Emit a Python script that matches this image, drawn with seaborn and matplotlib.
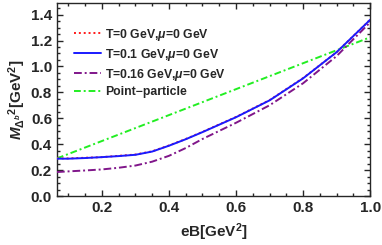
import numpy as np
import pandas as pd
import seaborn as sns
import matplotlib
matplotlib.use("Agg")
import matplotlib.pyplot as plt
from matplotlib.ticker import MultipleLocator

eB = [0.066, 0.1, 0.15, 0.2, 0.25, 0.3, 0.35, 0.4, 0.45, 0.5, 0.6, 0.7, 0.8, 0.9, 1.0]
m_T0 = [0.29, 0.29, 0.295, 0.30, 0.31, 0.32, 0.345, 0.39, 0.44, 0.495, 0.61, 0.74, 0.91, 1.11, 1.36]
m_T01 = [0.288, 0.288, 0.293, 0.30, 0.308, 0.318, 0.343, 0.388, 0.438, 0.493, 0.608, 0.738, 0.908, 1.11, 1.36]
m_T016 = [0.185, 0.19, 0.197, 0.205, 0.218, 0.235, 0.265, 0.31, 0.37, 0.44, 0.565, 0.70, 0.87, 1.08, 1.34]
pp_x = [0.066, 1.0]
pp_y = [0.29, 1.225]

labels = ["T=0 GeV,$\\mu$=0 GeV", "T=0.1 GeV,$\\mu$=0 GeV",
          "T=0.16 GeV,$\\mu$=0 GeV", "Point\u2212particle"]

sns.set_style("ticks")
plt.rcParams['font.family'] = ['Liberation Sans', 'DejaVu Sans']
plt.rcParams['mathtext.fontset'] = 'custom'
plt.rcParams['mathtext.rm'] = 'Liberation Sans:bold'
plt.rcParams['mathtext.it'] = 'Liberation Sans:italic:bold'
plt.rcParams['mathtext.bf'] = 'Liberation Sans:bold'

fig = plt.figure(figsize=(3.82, 2.45), dpi=100)
ax = fig.add_axes([0.149, 0.2, 0.82, 0.788])

df = pd.concat([
    pd.DataFrame({"eB": eB, "m": m_T0, "s": labels[0]}),
    pd.DataFrame({"eB": eB, "m": m_T01, "s": labels[1]}),
    pd.DataFrame({"eB": eB, "m": m_T016, "s": labels[2]}),
    pd.DataFrame({"eB": pp_x, "m": pp_y, "s": labels[3]}),
])

colors = ["#ff1a1a", "#1a1aff", "#80168a", "#22ee22"]
styles = [(0, (1, 1.5)), "-", (0, (4, 1.5, 1, 1.5)), (0, (3.5, 1.5, 1, 1.5))]
order = [3, 2, 0, 1]
for i in order:
    sub = df[df["s"] == labels[i]]
    sns.lineplot(data=sub, x="eB", y="m", ax=ax, color=colors[i],
                 linestyle=styles[i], lw=1.4, label=labels[i], zorder=3)

h, l = ax.get_legend_handles_labels()
hd = dict(zip(l, h))
leg = ax.legend([hd[k] for k in labels], labels, loc="upper left",
                bbox_to_anchor=(0.03, 0.915), frameon=False,
                prop={'size': 8.8, 'weight': 'bold'}, handlelength=2.2,
                handletextpad=0.4, labelspacing=0.32, borderaxespad=0.2)

ax.set_xlim(0.066, 1.0)
ax.set_ylim(0, 1.49)
ax.xaxis.set_major_locator(MultipleLocator(0.2))
ax.xaxis.set_minor_locator(MultipleLocator(0.05))
ax.yaxis.set_major_locator(MultipleLocator(0.2))
ax.yaxis.set_minor_locator(MultipleLocator(0.05))
ax.tick_params(which="both", direction="in", top=True, right=True, width=1)
ax.tick_params(which="major", length=4, labelsize=11)
ax.tick_params(which="minor", length=2)
for t in ax.get_xticklabels() + ax.get_yticklabels():
    t.set_fontweight("bold")
for s in ax.spines.values():
    s.set_linewidth(1)

ax.set_xlabel("eB[GeV$^2$]", fontsize=11, fontweight="bold", labelpad=5)
ax.set_ylabel("$M_{\\Delta^b}{}^2$[GeV$^2$]", fontsize=11, fontweight="bold", labelpad=2)

fig.savefig("out.png", dpi=100)
